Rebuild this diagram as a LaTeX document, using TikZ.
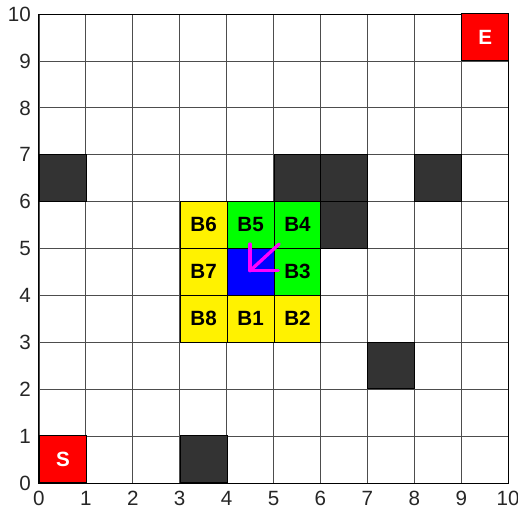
\documentclass[tikz,border=0pt]{standalone}
\usepackage{fontspec}
\setmainfont{Liberation Sans}
\usepackage{xcolor}
\usetikzlibrary{positioning,calc}

\definecolor{wallgray}{HTML}{333333}
\definecolor{gridgray}{HTML}{4D4D4D}
\definecolor{arrowpink}{HTML}{FF00FF}
\definecolor{ticktext}{HTML}{262626}

\begin{document}
\begin{tikzpicture}[
    cell/.style={draw=black, line width=0.6pt, minimum size=1cm, inner sep=0pt, anchor=south west, font=\fontsize{12.5}{14}\selectfont\bfseries},
    wall/.style={cell, fill=wallgray},
    open/.style={cell, fill=green},
    closed/.style={cell, fill=yellow},
    current/.style={cell, fill=blue},
    goal/.style={cell, fill=red, text=white},
    tick/.style={font=\fontsize{12.5}{14}\selectfont, text=ticktext},
    move/.style={arrowpink, line width=2pt, line cap=round}
]
    \useasboundingbox (-0.83,-0.73) rectangle (10.21,10.30);

    % grid and axes
    \draw[gridgray, line width=0.5pt] (0,0) grid (10,10);
    \draw[black, line width=0.6pt] (0,0) rectangle (10,10);
    \foreach \i in {0,...,10} {
        \node[tick, below] (xt\i) at (\i,-0.05) {\i};
        \node[tick, left] (yt\i) at (-0.05,\i) {\i};
    }

    % obstacles
    \node[wall] (w1) at (0,6) {};
    \node[wall] (w2) at (5,6) {};
    \node[wall] (w3) at (6,6) {};
    \node[wall] (w4) at (8,6) {};
    \node[wall] (w5) at (6,5) {};
    \node[wall] (w6) at (7,2) {};
    \node[wall] (w7) at (3,0) {};

    % start and end
    \node[goal] (start) at (0,0) {S};
    \node[goal] (end) at (9,9) {E};

    % neighbourhood of the current cell
    \node[closed] (b1) at (4,3) {B1};
    \node[closed] (b2) at (5,3) {B2};
    \node[open] (b3) at (5,4) {B3};
    \node[open] (b4) at (5,5) {B4};
    \node[open] (b5) at (4,5) {B5};
    \node[closed] (b6) at (3,5) {B6};
    \node[closed] (b7) at (3,4) {B7};
    \node[closed] (b8) at (3,3) {B8};
    \node[current] (cur) at (4,4) {};

    % heading arrow
    \coordinate (tip) at (4.5,4.53);
    \coordinate (tail) at (5.12,5.1);
    \draw[move] (tail) -- (tip);
    \draw[move] (tip) -- ++(0,0.57);
    \draw[move] (tip) -- ++(0.6,0);
\end{tikzpicture}
\end{document}
